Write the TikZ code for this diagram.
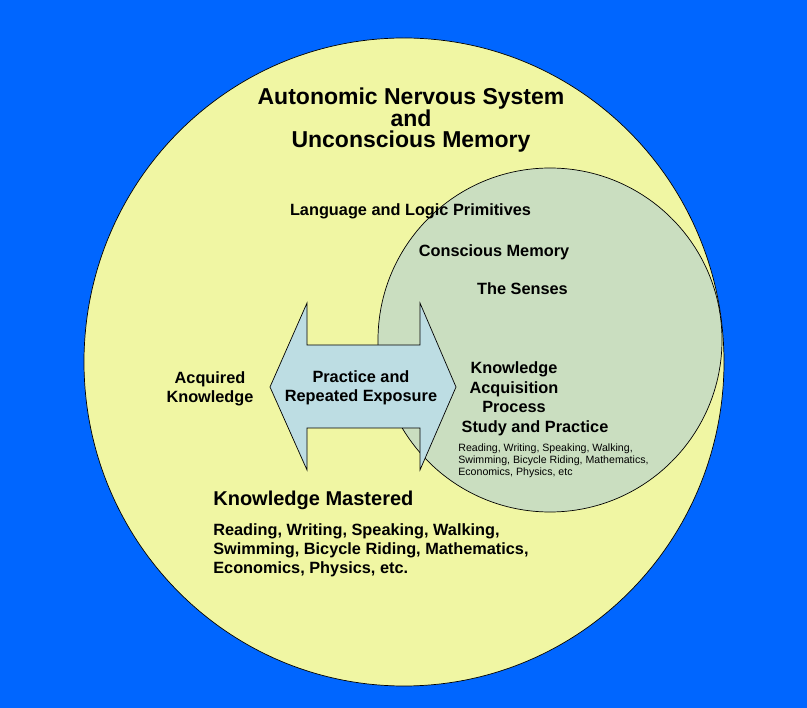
\documentclass[tikz,border=0pt]{standalone}
\usepackage{fontspec}
\setmainfont{Liberation Sans}

\definecolor{bgblue}{RGB}{0,102,255}
\definecolor{paleyellow}{RGB}{240,246,163}
\definecolor{mixgreen}{RGB}{202,222,192}
\definecolor{arrowblue}{RGB}{189,221,227}

\begin{document}
\begin{tikzpicture}[x=1pt, y=-1pt, line width=0.7pt,
  lbl/.style={inner sep=0pt, align=center, font=\bfseries\fontsize{16.3}{19.5}\selectfont},
  titletext/.style={inner sep=0pt, align=center, font=\bfseries\fontsize{23}{21}\selectfont},
  headtext/.style={inner sep=0pt, align=left, font=\bfseries\fontsize{20}{24}\selectfont},
  listtext/.style={inner sep=0pt, align=left, font=\bfseries\fontsize{16.3}{19}\selectfont},
  smalltext/.style={inner sep=0pt, align=left, font=\fontsize{10.6}{12}\selectfont}]

  % background and frame of the page
  \fill[bgblue] (0,0) rectangle (807,708);
  \useasboundingbox (0,0) rectangle (807,708);

  % outer region: autonomic system
  \fill[paleyellow] (404,362) ellipse [x radius=320pt, y radius=324pt];
  \begin{scope}
    \clip (404,362) ellipse [x radius=320pt, y radius=324pt];
    % inner region: conscious memory
    \filldraw[fill=mixgreen, draw=black] (550,340) circle [radius=172pt];
  \end{scope}
  \draw (404,362) ellipse [x radius=320pt, y radius=324pt];

  % two-headed arrow
  \filldraw[fill=arrowblue, draw=black]
    (270,387) -- (307,303) -- (307,345) -- (420,345) -- (420,303)
    -- (456,387) -- (420,470) -- (420,428) -- (307,428) -- (307,470) -- cycle;

  % labels (multi-line nodes are anchored on their last baseline)
  \node[titletext, anchor=base] (title) at (411,148)
    {Autonomic Nervous System\\and\\Unconscious Memory};
  \node[lbl, anchor=base] (prim) at (410.5,216) {Language and Logic Primitives};
  \node[lbl, anchor=base] (conscious) at (494,257) {Conscious Memory};
  \node[lbl, anchor=base] (senses) at (522.5,295) {The Senses};
  \node[lbl, anchor=base] (acquired) at (210,403) {Acquired\\Knowledge};
  \node[lbl, anchor=base] (practice) at (361,402) {Practice and\\Repeated Exposure};
  \node[lbl, anchor=base] (process) at (514,413) {Knowledge\\Acquisition\\Process};
  \node[lbl, anchor=base] (study) at (535,433) {Study and Practice};
  \node[smalltext, anchor=base west] (studylist) at (458,476)
    {Reading, Writing, Speaking, Walking,\\Swimming, Bicycle Riding, Mathematics,\\Economics, Physics, etc};
  \node[headtext, anchor=base west] (mastered) at (213,506) {Knowledge Mastered};
  \node[listtext, anchor=base west] (masteredlist) at (213,574)
    {Reading, Writing, Speaking, Walking,\\Swimming, Bicycle Riding, Mathematics,\\Economics, Physics, etc.};
\end{tikzpicture}
\end{document}
